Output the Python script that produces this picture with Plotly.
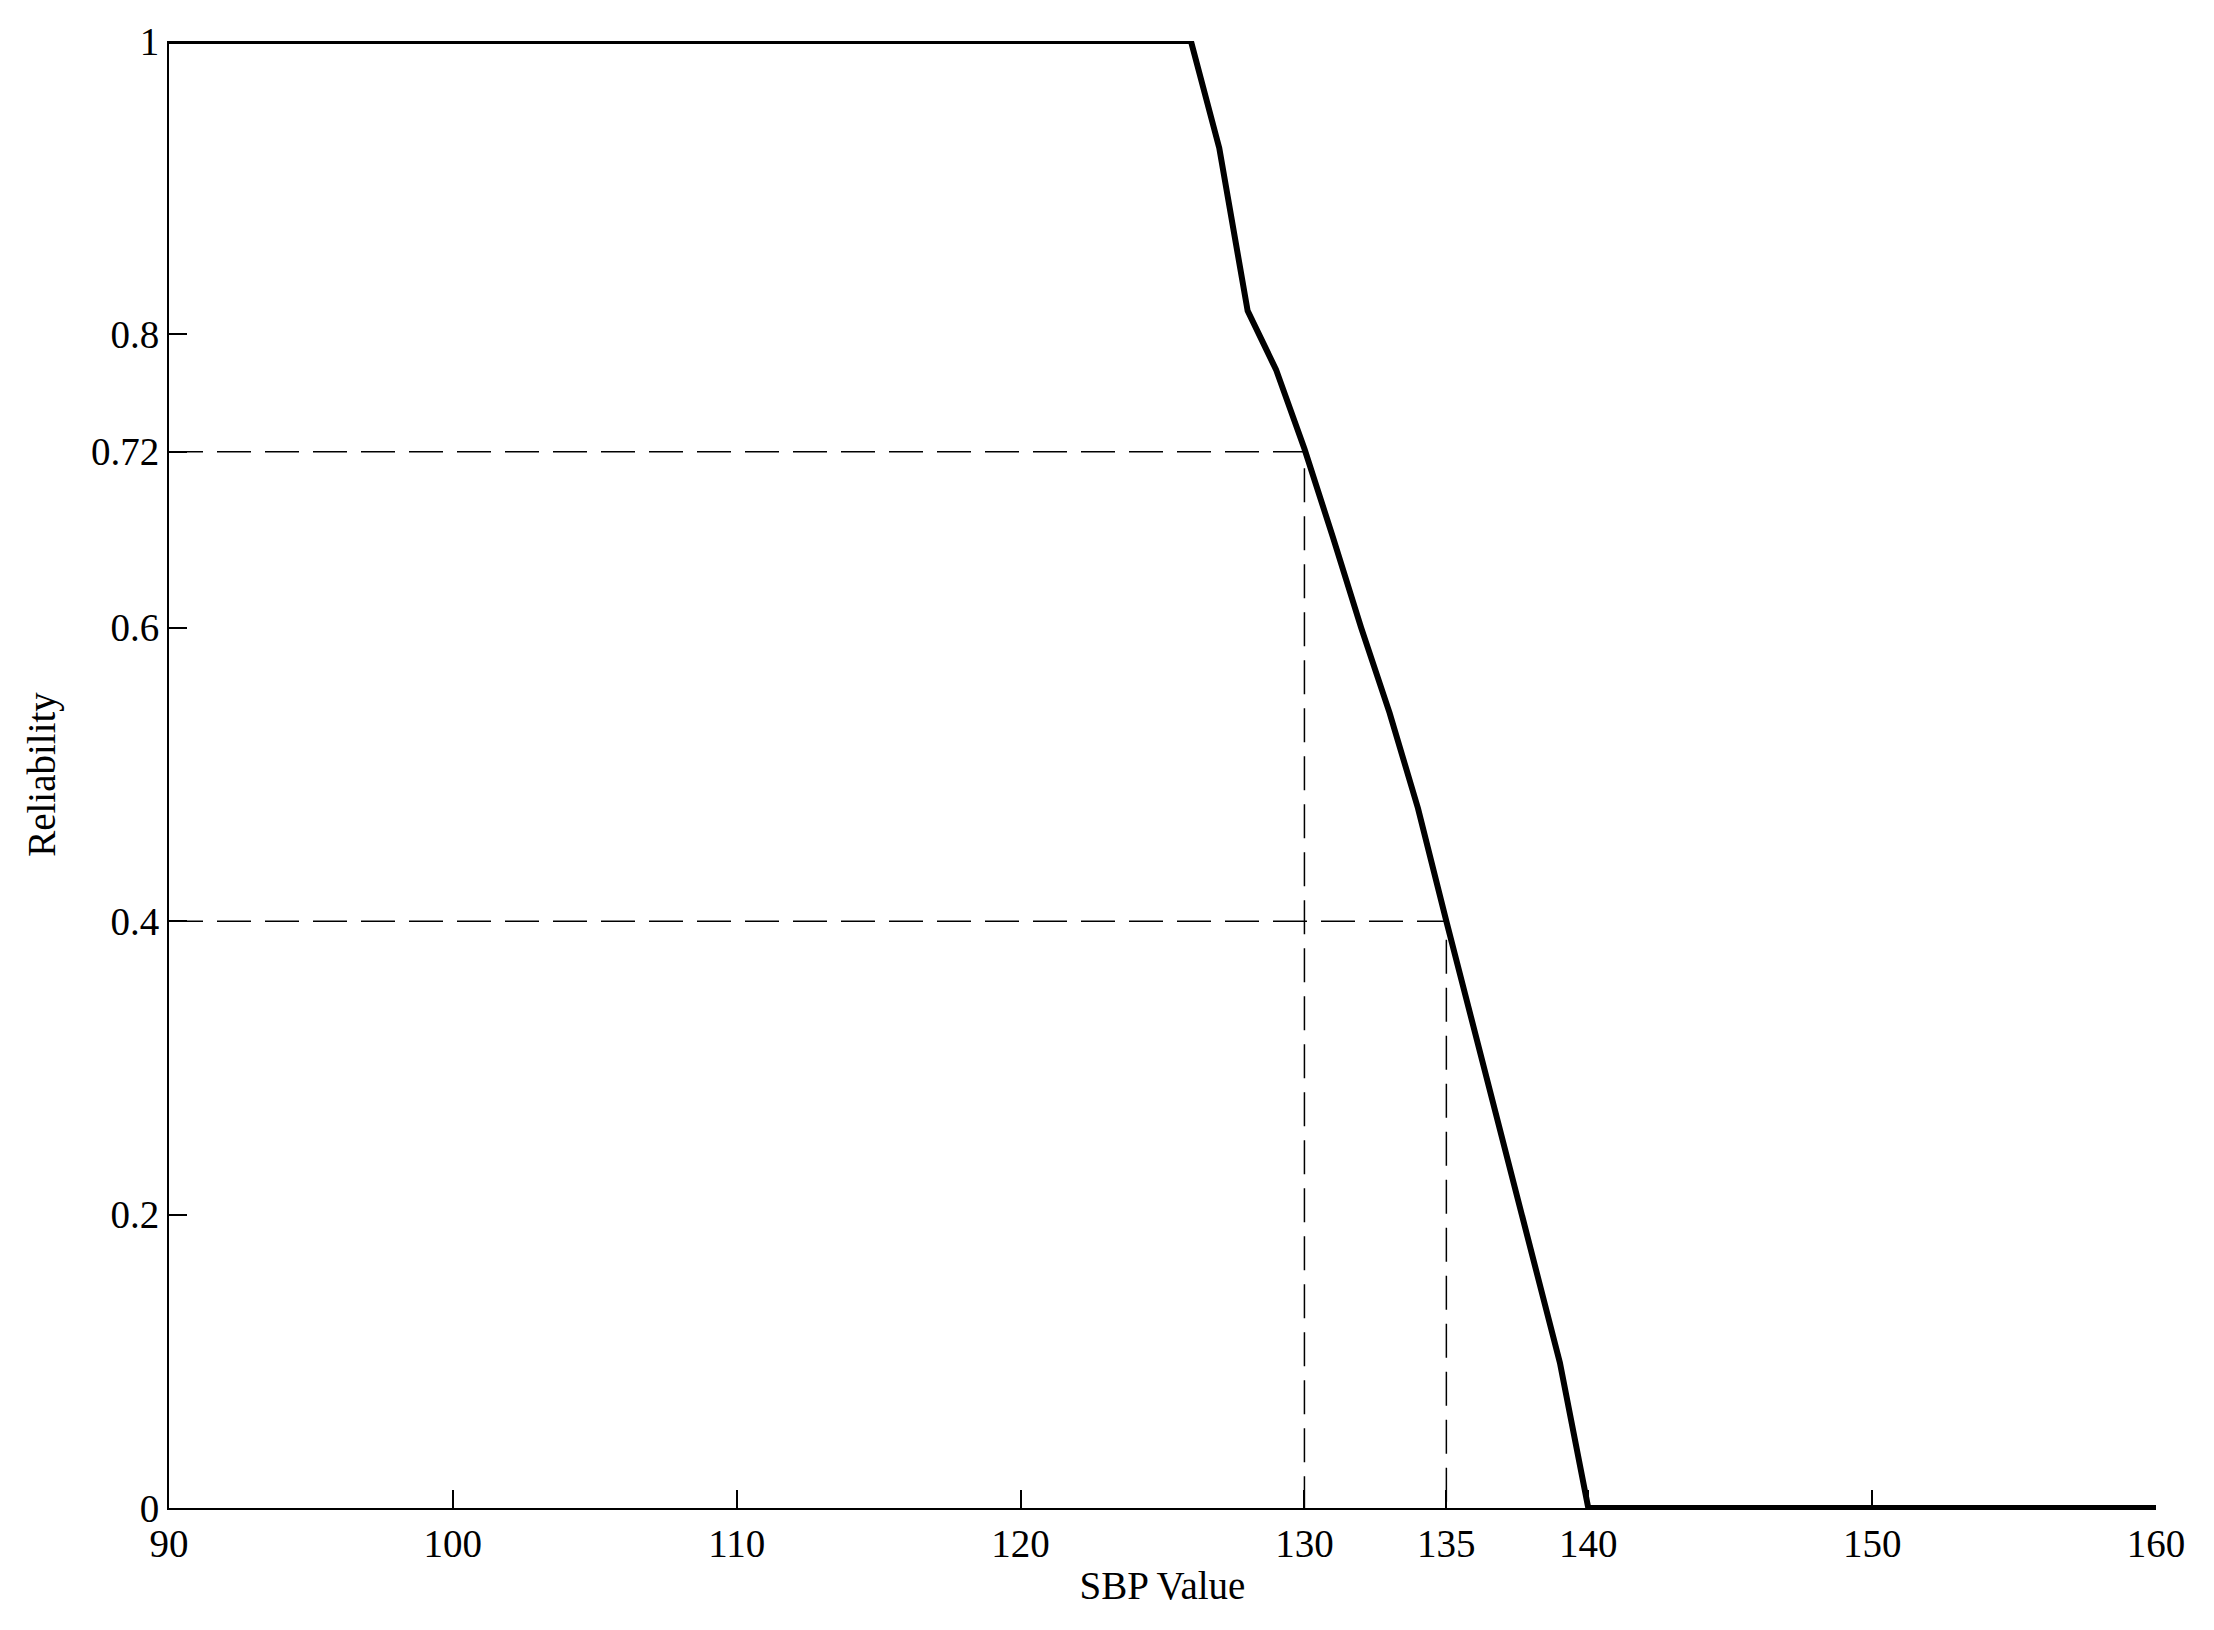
import plotly.graph_objects as go

# ---------------------------------------------------
# DATA
# ---------------------------------------------------

sbp_values = [90, 126, 127, 128, 129, 130, 131, 132, 133, 134, 135,
              136, 137, 138, 139, 140, 160]
reliability = [1, 1, 0.927, 0.816, 0.776, 0.722, 0.662, 0.60, 0.542,
               0.477, 0.40, 0.325, 0.248, 0.171, 0.099, 0, 0]

# reference levels marked with dashed guides
guide_sbp = [130, 135]
guide_rel = [0.72, 0.4]

x_ticks = [90, 100, 110, 120, 130, 135, 140, 150, 160]
y_ticks = [0, 0.2, 0.4, 0.6, 0.72, 0.8, 1]
y_tick_text = ["0", "0.2", "0.4", "0.6", "0.72", "0.8", "1"]

FONT = "Liberation Serif"

fig = go.Figure()

# dashed guide lines (horizontal then vertical drop)
for sx, ry in zip(guide_sbp, guide_rel):
    fig.add_trace(go.Scatter(
        x=[x_ticks[0], sx, sx],
        y=[ry, ry, 0],
        mode="lines",
        line=dict(color="black", width=1.5, dash="34px,14px"),
        hoverinfo="skip",
        showlegend=False
    ))

fig.add_trace(go.Scatter(
    x=sbp_values,
    y=reliability,
    mode="lines",
    line=dict(color="black", width=6),
    showlegend=False
))

fig.update_layout(
    width=2214,
    height=1630,
    paper_bgcolor="white",
    plot_bgcolor="white",
    margin=dict(l=161, r=66, t=33, b=130),
    font=dict(family=FONT, size=39, color="black"),
    xaxis=dict(
        range=[90, 160],
        tickvals=x_ticks,
        ticks="inside",
        ticklen=18,
        tickwidth=1.5,
        tickcolor="black",
        showline=True,
        linecolor="black",
        linewidth=2,
        showgrid=False,
        zeroline=False,
        title=dict(text="SBP Value", standoff=8, font=dict(size=39)),
        tickfont=dict(size=39)
    ),
    yaxis=dict(
        range=[0, 1],
        tickvals=y_ticks,
        ticktext=y_tick_text,
        ticks="inside",
        ticklen=18,
        tickwidth=1.5,
        tickcolor="black",
        showline=True,
        linecolor="black",
        linewidth=2,
        showgrid=False,
        zeroline=False,
        title=dict(text="Reliability", standoff=23, font=dict(size=39)),
        tickfont=dict(size=39)
    )
)

fig.write_html("out.html")
